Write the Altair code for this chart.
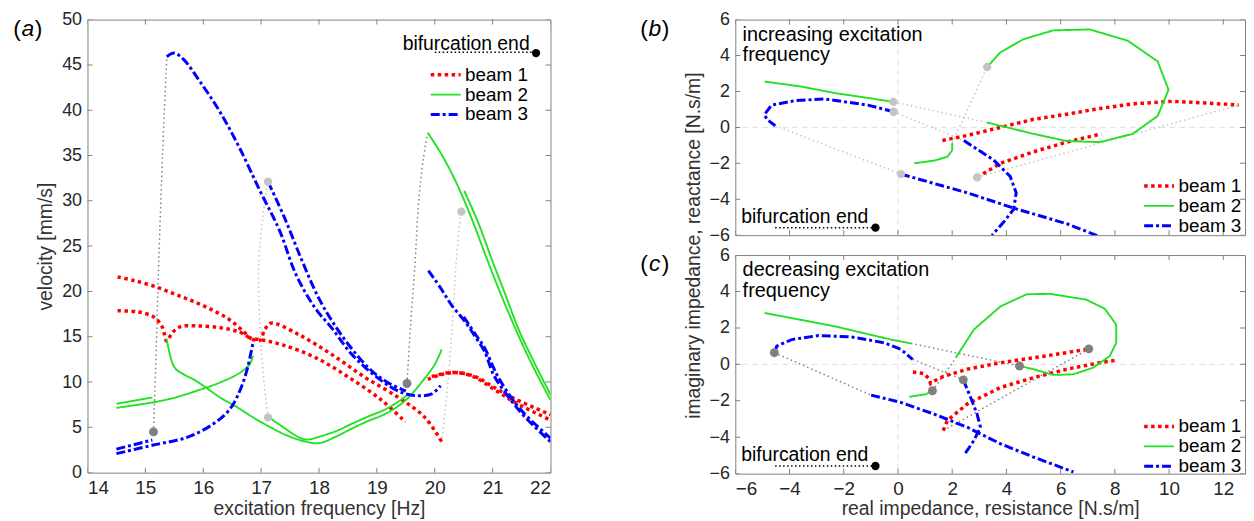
import altair as alt
import pandas as pd

FONT = "Liberation Sans"

# ---------------- Panel (a): velocity [mm/s] vs excitation frequency [Hz] ----------------
A_R1_F = [14.52, 14.80, 15.14, 15.49, 15.83, 16.17, 16.46, 16.69, 16.83, 16.97, 17.37, 17.94, 18.52, 19.09, 19.49]
A_R1_V = [21.6, 21.2, 20.6, 19.75, 18.9, 17.9, 16.85, 15.6, 14.8, 14.7, 14.1, 12.7, 10.5, 7.95, 5.6]
A_R2_F = [14.52, 14.86, 15.14, 15.29, 15.37, 15.46, 15.60, 15.89, 16.29, 16.63, 16.86, 16.98, 17.06, 17.17, 17.66, 18.23, 18.80, 19.37, 19.83, 20.12]
A_R2_V = [17.86, 17.75, 17.2, 16.1, 14.5, 15.4, 16.1, 16.2, 16.0, 15.5, 14.7, 14.6, 15.75, 16.5, 15.2, 13.0, 10.5, 8.3, 6.1, 3.4]
A_R3_F = [19.88, 20.1, 20.35, 20.7, 21.0, 21.4, 22.0]
A_R3_V = [10.3, 10.8, 11.05, 10.6, 9.5, 8.1, 6.4]
A_R4_F = [19.95, 20.2, 20.45, 20.7, 21.0, 21.4, 22.0]
A_R4_V = [10.6, 11.0, 11.0, 10.5, 9.3, 7.7, 5.8]

A_G1_F = [14.5, 15.12]
A_G1_V = [7.6, 8.3]
A_G2_F = [14.5, 15.14, 15.49, 15.89, 16.29, 16.63, 16.80, 16.86]
A_G2_V = [7.15, 7.77, 8.25, 9.04, 9.95, 11.0, 11.95, 12.9]
A_G3_F = [15.37, 15.50, 15.66, 15.83, 16.0, 16.29, 16.58, 16.86, 17.15, 17.43, 17.72, 18.0, 18.3, 18.57, 18.85, 19.15, 19.49, 19.77, 20.0, 20.12]
A_G3_V = [14.7, 11.65, 10.85, 10.3, 9.6, 8.3, 7.24, 6.1, 5.05, 4.15, 3.5, 3.25, 4.0, 4.87, 5.7, 6.5, 7.95, 9.95, 11.95, 13.6]
A_G4_F = [17.13, 17.43, 17.65, 17.8, 18.0, 18.3, 18.57, 18.85, 19.15, 19.43, 19.55]
A_G4_V = [6.13, 4.8, 3.9, 3.65, 3.96, 4.6, 5.4, 6.2, 7.0, 8.1, 8.7]
A_G5_F = [19.88, 20.12, 20.38, 20.64, 20.86, 21.09, 21.38, 21.66, 22.0]
A_G5_V = [37.5, 35.1, 31.9, 28.0, 24.3, 20.5, 16.1, 12.2, 8.0]
A_G6_F = [20.51, 20.75, 21.0, 21.2, 21.45, 21.7, 22.0]
A_G6_V = [31.1, 27.6, 23.3, 20.0, 15.8, 12.4, 8.6]

A_B1_F = [14.5, 15.14, 15.72, 16.17, 16.46, 16.63, 16.75, 16.83, 16.86]
A_B1_V = [2.1, 3.05, 3.9, 5.36, 7.0, 9.0, 11.2, 13.4, 14.3]
A_B2_F = [14.5, 15.12]
A_B2_V = [2.6, 3.6]
A_B3_F = [15.37, 15.5, 15.66, 15.95, 16.29, 16.63, 16.98, 17.32, 17.6, 17.94, 18.23, 18.52, 18.8, 19.09, 19.37, 19.66, 19.95, 20.1]
A_B3_V = [45.9, 46.3, 45.6, 43.1, 39.8, 35.8, 31.1, 26.7, 21.9, 18.1, 15.9, 13.4, 11.6, 10.1, 9.0, 8.5, 8.7, 9.6]
A_B4_F = [17.12, 17.4, 17.7, 18.0, 18.3, 18.6, 18.9, 19.2, 19.5]
A_B4_V = [32.1, 28.2, 23.5, 19.2, 16.0, 13.4, 11.3, 9.9, 9.0]
A_B5_F = [19.89, 20.1, 20.29, 20.52, 20.7, 20.86, 21.0, 21.09, 21.32, 21.55, 22.0]
A_B5_V = [22.3, 20.4, 18.5, 16.7, 15.0, 13.4, 11.0, 10.0, 7.95, 6.2, 3.4]
A_B6_F = [20.5, 20.7, 20.86, 21.0, 21.1, 21.32, 21.55, 22.0]
A_B6_V = [17.2, 15.3, 13.8, 11.8, 10.5, 8.3, 6.5, 3.8]

# jumps (dotted): dark = increasing sweep, light = decreasing sweep
A_D1_F = [15.14, 15.19, 15.23, 15.30, 15.37]
A_D1_V = [4.5, 14.0, 23.0, 35.5, 45.9]
A_D2_F = [19.52, 19.58, 19.66, 19.72, 19.80, 19.88]
A_D2_V = [9.84, 16.0, 23.2, 29.7, 34.5, 37.5]
A_L1_F = [17.12, 17.05, 16.98, 16.96, 17.03, 17.12]
A_L1_V = [6.1, 10.0, 15.9, 23.2, 28.2, 32.1]
A_L2_F = [20.12, 20.2, 20.28, 20.33, 20.37, 20.45]
A_L2_V = [3.4, 8.0, 14.0, 19.0, 23.2, 28.8]

A_DOT_DARK_F = [15.14, 19.52]
A_DOT_DARK_V = [4.5, 9.84]
A_DOT_LIGHT_F = [17.12, 17.12, 20.46]
A_DOT_LIGHT_V = [6.1, 32.1, 28.8]

A_BIF_TEXT = ("bifurcation end", 21.64, 47.3)
A_BIF_LINE_F = [20.0, 21.7]
A_BIF_LINE_V = [46.4, 46.4]
A_BIF_DOT = (21.75, 46.3)

A_XTICKS = [14, 15, 16, 17, 18, 19, 20, 21, 22]
A_YTICKS = [0, 5, 10, 15, 20, 25, 30, 35, 40, 45, 50]

# ---------------- Panel (b): impedance, increasing excitation frequency ----------------
B_G1_X = [-4.92, -3.56, -2.33, -1.11, -0.17]
B_G1_Y = [2.55, 2.27, 1.91, 1.64, 1.42]
B_G2_X = [0.6, 1.33, 1.82, 2.0, 2.0]
B_G2_Y = [-2.0, -1.85, -1.64, -1.27, -0.87]
B_G3_X = [3.29, 3.78, 4.63, 5.73, 7.08, 8.48, 9.58, 9.98, 9.58, 8.66, 7.44, 6.22, 5.0, 3.29]
B_G3_Y = [3.36, 4.18, 4.91, 5.4, 5.45, 4.82, 3.67, 2.09, 0.64, -0.36, -0.82, -0.76, -0.36, 0.27]
B_B1_X = [-0.16, -1.11, -2.7, -3.8, -4.66, -4.92, -4.84, -4.53]
B_B1_Y = [0.87, 1.24, 1.58, 1.49, 1.24, 0.73, 0.45, 0.09]
B_B2_X = [0.11, 2.55, 4.39, 6.22, 7.38]
B_B2_Y = [-2.6, -3.64, -4.55, -5.36, -6.04]
B_B3_X = [2.43, 3.53, 4.14, 4.36, 4.27, 3.9, 3.47]
B_B3_Y = [-0.73, -1.82, -2.73, -3.64, -4.55, -5.27, -6.0]
B_R1_X = [1.64, 2.55, 3.78, 5.0, 6.22, 7.44, 8.66, 10.13, 11.35, 12.57]
B_R1_Y = [-0.73, -0.45, 0.0, 0.45, 0.73, 1.05, 1.31, 1.45, 1.36, 1.24]
B_R2_X = [2.92, 3.78, 5.0, 6.22, 7.5]
B_R2_Y = [-2.78, -2.0, -1.36, -0.82, -0.36]

B_P1_X = [-0.17, 3.29]
B_P1_Y = [1.42, 0.27]
B_P2_X = [-0.16, 2.43]
B_P2_Y = [0.87, -0.73]
B_P3_X = [-4.53, 0.11]
B_P3_Y = [0.09, -2.6]
B_P4_X = [2.0, 3.29]
B_P4_Y = [-0.87, 3.36]
B_P5_X = [2.92, 12.57]
B_P5_Y = [-2.78, 1.24]

B_DOT_X = [-0.17, -0.16, 0.11, 3.29, 2.92]
B_DOT_Y = [1.42, 0.87, -2.6, 3.36, -2.78]

B_TEXT = [("increasing excitation", -5.73, 5.13), ("frequency", -5.73, 4.0)]

# ---------------- Panel (c): impedance, decreasing excitation frequency ----------------
C_G1_X = [-4.92, -2.33, -0.26, 0.48]
C_G1_Y = [2.82, 2.09, 1.36, 1.15]
C_G2_X = [0.42, 1.03, 1.27]
C_G2_Y = [-1.78, -1.64, -1.45]
C_G3_X = [2.13, 2.8, 3.78, 4.75, 5.61, 6.95, 7.63, 8.05, 8.05, 7.81, 7.2, 6.46, 5.73, 5.0, 4.48]
C_G3_Y = [0.36, 1.91, 3.18, 3.85, 3.87, 3.55, 3.05, 2.18, 1.18, 0.45, -0.18, -0.55, -0.58, -0.27, -0.09]
C_B1_X = [-4.56, -4.47, -3.92, -2.94, -1.72, -0.5, 0.11, 0.54]
C_B1_Y = [0.64, 1.0, 1.36, 1.58, 1.51, 1.18, 0.82, 0.27]
C_B2_X = [-0.99, 0.11, 1.33, 2.55, 3.78, 5.0, 6.47]
C_B2_Y = [-1.69, -2.09, -2.73, -3.45, -4.36, -5.09, -5.91]
C_B3_X = [2.41, 2.68, 2.92, 3.04, 2.8, 2.43]
C_B3_Y = [-0.85, -1.82, -2.73, -3.45, -4.18, -5.0]
C_R1_X = [0.55, 0.95, 1.15, 1.2, 1.35, 1.7, 2.55, 3.78, 5.0, 6.22, 7.04]
C_R1_Y = [-0.42, -0.5, -0.8, -1.05, -0.9, -0.65, -0.27, 0.09, 0.36, 0.64, 0.85]
C_R2_X = [1.67, 1.82, 2.55, 3.78, 5.0, 6.22, 7.44, 8.11]
C_R2_Y = [-3.64, -3.09, -2.18, -1.27, -0.73, -0.27, 0.09, 0.24]

C_Q1_X = [-4.56, -0.99]
C_Q1_Y = [0.64, -1.69]
C_Q2_X = [0.48, 4.48]
C_Q2_Y = [1.15, -0.09]
C_Q3_X = [0.54, 2.41]
C_Q3_Y = [0.27, -0.85]
C_Q4_X = [1.27, 2.13]
C_Q4_Y = [-1.45, 0.36]
C_Q5_X = [7.04, 1.67]
C_Q5_Y = [0.85, -3.64]

C_DOT_X = [-4.56, 1.27, 2.41, 4.48, 7.04]
C_DOT_Y = [0.64, -1.45, -0.85, -0.09, 0.85]

C_TEXT = [("decreasing excitation", -5.73, 5.18), ("frequency", -5.73, 4.0)]

BC_BIF_TEXT = ("bifurcation end", -5.78, -5.0)
BC_BIF_LINE_X = [-4.53, -0.9]
BC_BIF_LINE_Y = [-5.58, -5.58]
BC_BIF_DOT = (-0.83, -5.58)

BC_XTICKS = [-6, -4, -2, 0, 2, 4, 6, 8, 10, 12]
BC_YTICKS = [-6, -4, -2, 0, 2, 4, 6]

BEAMS = ["beam 1", "beam 2", "beam 3"]
BEAM_COLORS = ["#ff0000", "#22e022", "#0000ff"]
BEAM_DASH = [[3.5, 3.5], [1, 0], [9, 3, 3, 3]]
BEAM_WIDTH = [3.5, 1.9, 3.0]

DARK = "#808080"
LIGHT = "#c4c4c4"
LABEL_C = "#262626"


def frame(segs):
    rows = []
    for name, beam, xs, ys in segs:
        for i, (x, y) in enumerate(zip(xs, ys)):
            rows.append({"seg": name, "beam": beam, "i": i, "x": x, "y": y})
    return pd.DataFrame(rows)


def pts(xs, ys):
    return pd.DataFrame({"x": xs, "y": ys})


def beam_enc(lx, ly):
    lg = alt.Legend(orient="none", legendX=lx, legendY=ly, symbolType="M-3,0H3",
                    symbolSize=100, labelFontSize=19, labelColor="#000000",
                    labelFont=FONT, labelOffset=10, rowPadding=-2, padding=0)
    return dict(
        color=alt.Color("beam:N", scale=alt.Scale(domain=BEAMS, range=BEAM_COLORS), legend=lg, title=None),
        strokeDash=alt.StrokeDash("beam:N", scale=alt.Scale(domain=BEAMS, range=BEAM_DASH), legend=lg, title=None),
        strokeWidth=alt.StrokeWidth("beam:N", scale=alt.Scale(type="ordinal", domain=BEAMS, range=BEAM_WIDTH),
                                    legend=lg, title=None),
    )


def panel(W, H, xdom, ydom, xaxis, yaxis, xticks, yticks, beams_df, dark_df, light_df,
          dark_dots, light_dots, legend_xy, texts, bif_text, bif_line, bif_dot,
          tag, tag_xy, zero_lines, interp, bif_align):
    X = alt.X("x:Q", scale=alt.Scale(domain=xdom, nice=False, zero=False), axis=xaxis)
    Y = alt.Y("y:Q", scale=alt.Scale(domain=ydom, nice=False, zero=False), axis=yaxis)
    layers = []
    if zero_lines:
        layers.append(alt.Chart(pd.DataFrame({"x": [0]})).mark_rule(
            color="#e0e0e0", strokeDash=[6, 4], strokeWidth=1).encode(x=X))
        layers.append(alt.Chart(pd.DataFrame({"y": [0]})).mark_rule(
            color="#e0e0e0", strokeDash=[6, 4], strokeWidth=1).encode(y=Y))
    if dark_df is not None:
        layers.append(alt.Chart(dark_df).mark_line(
            clip=True, color=DARK, strokeDash=[1.5, 3], strokeWidth=1.5, interpolate=interp).encode(
            x=X, y=Y, detail="seg:N", order="i:Q"))
    if light_df is not None:
        layers.append(alt.Chart(light_df).mark_line(
            clip=True, color=LIGHT, strokeDash=[1.5, 3], strokeWidth=1.5, interpolate=interp).encode(
            x=X, y=Y, detail="seg:N", order="i:Q"))
    layers.append(alt.Chart(beams_df).mark_line(clip=True, interpolate=interp, strokeCap="butt").encode(
        x=X, y=Y, detail="seg:N", order="i:Q", **beam_enc(*legend_xy)))
    if dark_dots is not None:
        layers.append(alt.Chart(dark_dots).mark_circle(size=80, color=DARK, opacity=1).encode(x=X, y=Y))
    if light_dots is not None:
        layers.append(alt.Chart(light_dots).mark_circle(size=70, color=LIGHT, opacity=1).encode(x=X, y=Y))
    # text annotations
    tdf = pd.DataFrame({"t": [t[0] for t in texts], "x": [t[1] for t in texts], "y": [t[2] for t in texts]})
    if len(tdf):
        layers.append(alt.Chart(tdf).mark_text(align="left", baseline="middle", fontSize=20,
                                               font=FONT, color="#000000").encode(x=X, y=Y, text="t:N"))
    bdf = pd.DataFrame({"t": [bif_text[0]], "x": [bif_text[1]], "y": [bif_text[2]]})
    layers.append(alt.Chart(bdf).mark_text(align=bif_align, baseline="middle", fontSize=19.5,
                                           font=FONT, color="#000000").encode(x=X, y=Y, text="t:N"))
    layers.append(alt.Chart(pts(*bif_line)).mark_line(color="#000000", strokeDash=[1.5, 2.5],
                                                       strokeWidth=1.5).encode(x=X, y=Y))
    layers.append(alt.Chart(pts([bif_dot[0]], [bif_dot[1]])).mark_circle(
        size=70, color="#000000", opacity=1).encode(x=X, y=Y))
    # inward ticks on all four sides
    xt = pd.DataFrame({"x": xticks})
    yt = pd.DataFrame({"y": yticks})
    for yv in (0, H):
        layers.append(alt.Chart(xt).mark_tick(clip=True, size=10, thickness=1, color=DARK,
                                              opacity=1).encode(x=X, y=alt.value(yv)))
    for xv in (0, W):
        layers.append(alt.Chart(yt).mark_tick(clip=True, size=10, thickness=1, color=DARK,
                                              opacity=1).encode(y=Y, x=alt.value(xv)))
    # panel tag "(a)" with italic letter
    cx, cy = tag_xy
    tg = pd.DataFrame({"o": ["("], "l": [tag], "c": [")"]})
    layers.append(alt.Chart(tg).mark_text(align="right", baseline="middle", fontSize=23, font=FONT,
                                          color="#000000").encode(x=alt.value(cx - 7), y=alt.value(cy), text="o:N"))
    layers.append(alt.Chart(tg).mark_text(align="center", baseline="middle", fontSize=23, font=FONT,
                                          fontStyle="italic", color="#000000").encode(
        x=alt.value(cx), y=alt.value(cy), text="l:N"))
    layers.append(alt.Chart(tg).mark_text(align="left", baseline="middle", fontSize=23, font=FONT,
                                          color="#000000").encode(x=alt.value(cx + 7), y=alt.value(cy), text="c:N"))
    return alt.layer(*layers).properties(width=W, height=H)


# ---- build panel (a)
a_beams = frame([
    ("r1", "beam 1", A_R1_F, A_R1_V), ("r2", "beam 1", A_R2_F, A_R2_V),
    ("r3", "beam 1", A_R3_F, A_R3_V), ("r4", "beam 1", A_R4_F, A_R4_V),
    ("g1", "beam 2", A_G1_F, A_G1_V), ("g2", "beam 2", A_G2_F, A_G2_V),
    ("g3", "beam 2", A_G3_F, A_G3_V), ("g4", "beam 2", A_G4_F, A_G4_V),
    ("g5", "beam 2", A_G5_F, A_G5_V), ("g6", "beam 2", A_G6_F, A_G6_V),
    ("b1", "beam 3", A_B1_F, A_B1_V), ("b2", "beam 3", A_B2_F, A_B2_V),
    ("b3", "beam 3", A_B3_F, A_B3_V), ("b4", "beam 3", A_B4_F, A_B4_V),
    ("b5", "beam 3", A_B5_F, A_B5_V), ("b6", "beam 3", A_B6_F, A_B6_V),
])
a_dark = frame([("d1", "", A_D1_F, A_D1_V), ("d2", "", A_D2_F, A_D2_V)])
a_light = frame([("l1", "", A_L1_F, A_L1_V), ("l2", "", A_L2_F, A_L2_V)])

AW, AH = 466, 456
ax_a = alt.Axis(values=A_XTICKS, title="excitation frequency [Hz]", format="d", labelPadding=6,
                titleY=36, titleBaseline="middle")
ay_a = alt.Axis(values=A_YTICKS, title="velocity [mm/s]", format="d", labelPadding=6, titlePadding=6,
                labelFontSize=18)
panel_a = panel(AW, AH, [14, 22], [0, 50], ax_a, ay_a, A_XTICKS, A_YTICKS, a_beams, a_dark, a_light,
                pts(A_DOT_DARK_F, A_DOT_DARK_V), pts(A_DOT_LIGHT_F, A_DOT_LIGHT_V),
                (351, 46), [], A_BIF_TEXT, (A_BIF_LINE_F, A_BIF_LINE_V), A_BIF_DOT,
                "a", (-60, 10), False, "catmull-rom", "right")

# ---- build panel (b)
b_beams = frame([
    ("r1", "beam 1", B_R1_X, B_R1_Y), ("r2", "beam 1", B_R2_X, B_R2_Y),
    ("g1", "beam 2", B_G1_X, B_G1_Y), ("g2", "beam 2", B_G2_X, B_G2_Y), ("g3", "beam 2", B_G3_X, B_G3_Y),
    ("b1", "beam 3", B_B1_X, B_B1_Y), ("b2", "beam 3", B_B2_X, B_B2_Y), ("b3", "beam 3", B_B3_X, B_B3_Y),
])
b_light = frame([("p1", "", B_P1_X, B_P1_Y), ("p2", "", B_P2_X, B_P2_Y), ("p3", "", B_P3_X, B_P3_Y),
                 ("p4", "", B_P4_X, B_P4_Y), ("p5", "", B_P5_X, B_P5_Y)])

BW, BH, CH = 513, 217, 220
XDOM_BC = [-6, 12.8]
ay_b = alt.Axis(values=BC_YTICKS, title="imaginary impedance, reactance [N.s/m]", format="d",
                labelPadding=6, titlePadding=6, titleY=227, labelFontSize=18)
panel_b = panel(BW, BH, XDOM_BC, [-6, 6], None, ay_b, BC_XTICKS, BC_YTICKS, b_beams, None, b_light,
                None, pts(B_DOT_X, B_DOT_Y), (417, 158), B_TEXT, BC_BIF_TEXT,
                (BC_BIF_LINE_X, BC_BIF_LINE_Y), BC_BIF_DOT, "b", (-81, 10), True, "linear", "left")

# ---- build panel (c)
c_beams = frame([
    ("r1", "beam 1", C_R1_X, C_R1_Y), ("r2", "beam 1", C_R2_X, C_R2_Y),
    ("g1", "beam 2", C_G1_X, C_G1_Y), ("g2", "beam 2", C_G2_X, C_G2_Y), ("g3", "beam 2", C_G3_X, C_G3_Y),
    ("b1", "beam 3", C_B1_X, C_B1_Y), ("b2", "beam 3", C_B2_X, C_B2_Y), ("b3", "beam 3", C_B3_X, C_B3_Y),
])
c_dark = frame([("q1", "", C_Q1_X, C_Q1_Y), ("q2", "", C_Q2_X, C_Q2_Y), ("q3", "", C_Q3_X, C_Q3_Y),
                ("q4", "", C_Q4_X, C_Q4_Y), ("q5", "", C_Q5_X, C_Q5_Y)])
ax_c = alt.Axis(values=BC_XTICKS, title="real impedance, resistance [N.s/m]", format="d",
                labelPadding=6, titleY=35, titleBaseline="middle")
ay_c = alt.Axis(values=BC_YTICKS, title=None, format="d", labelPadding=6, labelFontSize=18)
panel_c = panel(BW, CH, XDOM_BC, [-6, 6], ax_c, ay_c, BC_XTICKS, BC_YTICKS, c_beams, c_dark, None,
                pts(C_DOT_X, C_DOT_Y), None, (417, 163), C_TEXT, BC_BIF_TEXT,
                (BC_BIF_LINE_X, BC_BIF_LINE_Y), BC_BIF_DOT, "c", (-81, 9), True, "linear", "left")

IND = dict(x="independent", y="independent", color="independent",
           strokeDash="independent", strokeWidth="independent")
right = alt.vconcat(panel_b, panel_c, spacing=20, bounds="flush").resolve_scale(**IND)
chart = alt.hconcat(panel_a, right, spacing=186, bounds="flush").resolve_scale(**IND).properties(
    padding={"left": 4, "top": 0, "right": 0, "bottom": 0}
).configure(font=FONT).configure_view(stroke=DARK, strokeWidth=1).configure_axis(
    grid=False, domain=False, ticks=False, labelFont=FONT, titleFont=FONT,
    labelFontSize=19, titleFontSize=19.5, labelColor=LABEL_C, titleColor="#333333",
    titleFontWeight="normal"
)

chart.save("out.html", embed_options={"renderer": "svg", "actions": False})
